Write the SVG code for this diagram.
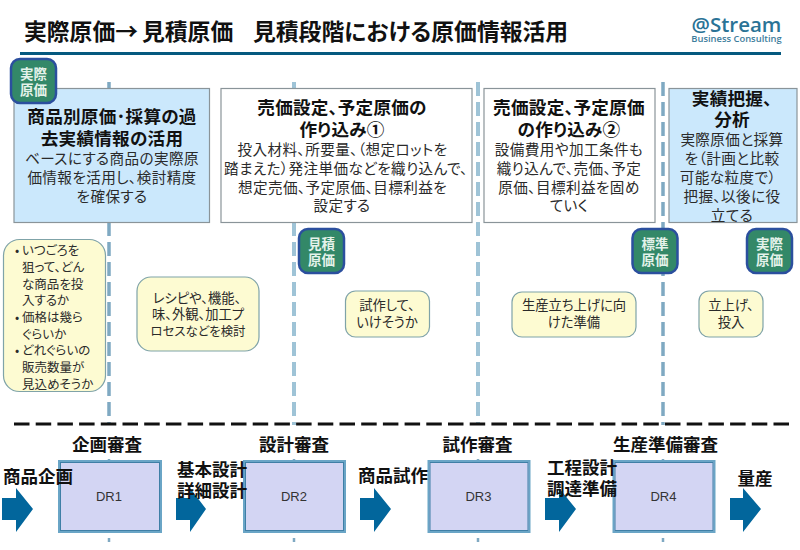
<svg xmlns="http://www.w3.org/2000/svg" width="800" height="550" viewBox="0 0 800 550">
<style>
text{font-family:"Noto Sans CJK JP","Liberation Sans",sans-serif;text-anchor:middle;fill:#222;font-feature-settings:"palt"}
.b{font-weight:700;fill:#111}
.h{font-size:17.6px;font-weight:700;fill:#111;letter-spacing:.25px}
.t{font-size:14.6px;fill:#2a2a2a;letter-spacing:.4px}
.y{font-size:13.3px;fill:#2a2a2a}
.n{font-size:12.5px}
.s{font-size:17.5px;font-weight:700;fill:#111}
.l{text-anchor:start}
.box{stroke:#8a9499;stroke-width:1.2}
.note{fill:#fdfbd2;stroke:#7fa3a8;stroke-width:1.2}
.badge{fill:#338868;stroke:#2b4f9e;stroke-width:2.5}
.bt{font-size:13.5px;font-weight:700;fill:#e4f2ea}
.dr{fill:#d3d5f3;stroke:#6aa5c6;stroke-width:2}
.dri{fill:none;stroke:#3f7fa6;stroke-width:1}
.drt{font-family:"Liberation Sans",sans-serif;font-size:13px;fill:#333}
.ar{fill:#02669c}
.v1{stroke:#7fa9c2;stroke-width:3.5;stroke-dasharray:14 6;fill:none}
.v2{stroke:#3f88ae;stroke-width:3;stroke-dasharray:14 6;fill:none}
.v0{stroke:#fff;stroke-width:1;stroke-dasharray:14 6;fill:none}
</style>
<rect width="800" height="550" fill="#fff"/>
<g id="header">
<text class="b l" x="24" y="39.500" font-size="22.8">実際原価→<tspan x="142">見積原価</tspan></text>
<text class="b l" x="253" y="39.500" font-size="22.8">見積段階における原価情報活用</text>
<rect x="20" y="52" width="761" height="3" fill="#05597f"/>
</g>
<g id="logo">
<text x="736.500" y="32" font-size="20.500" font-weight="600" style="font-family:'Open Sans',sans-serif;fill:#2a7396">@Stream</text>
<text x="736.500" y="42" font-size="9.400" font-weight="600" style="font-family:'Open Sans',sans-serif;fill:#3d7d9c">Business Consulting</text>
</g>
<g id="connectors">
<path class="v1" d="M109 82V425"/>
<path class="v2" d="M294 82V425"/>
<path class="v0" d="M294 82V425"/>
<path class="v2" d="M478 82V425"/>
<path class="v0" d="M478 82V425"/>
<path class="v1" d="M663 82V425"/>
<path d="M14 424H790" stroke="#111" stroke-width="3" stroke-dasharray="15.5 6.2" fill="none"/>
<path d="M109 459v3M109 538v4M294 459v3M294 538v4M478 459v3M478 538v4M663 459v3M663 538v4" stroke="#7fa9c2" stroke-width="2.5" fill="none"/>
</g>
<g id="phase1">
<rect class="box" x="14" y="88.500" width="195.500" height="134" fill="#cbe8fc"/>
<text class="h" x="112" y="123">商品別原価･採算の過</text>
<text class="h" x="112" y="145">去実績情報の活用</text>
<text class="t" x="112" y="164">ベースにする商品の実際原</text>
<text class="t" x="112" y="183">価情報を活用し、検討精度</text>
<text class="t" x="112" y="202">を確保する</text>
</g>
<g id="phase2">
<rect class="box" x="221" y="88.500" width="251" height="134" fill="#fff"/>
<text class="h" x="342" y="114">売価設定、予定原価の</text>
<text class="h" x="342" y="136">作り込み①</text>
<text class="t" x="342.500" y="155">投入材料、所要量、（想定ロットを</text>
<text class="t" x="346" y="174">踏まえた）発注単価などを織り込んで、</text>
<text class="t" x="342.500" y="193">想定売価、予定原価、目標利益を</text>
<text class="t" x="342" y="211">設定する</text>
</g>
<g id="phase3">
<rect class="box" x="484" y="88.500" width="171" height="134" fill="#fff"/>
<text class="h" x="569" y="114">売価設定、予定原価</text>
<text class="h" x="569" y="136">の作り込み②</text>
<text class="t" x="569" y="155">設備費用や加工条件も</text>
<text class="t" x="569" y="174">織り込んで、売価、予定</text>
<text class="t" x="569" y="193">原価、目標利益を固め</text>
<text class="t" x="569" y="211">ていく</text>
</g>
<g id="phase4">
<rect class="box" x="669" y="88.500" width="128" height="134" fill="#cbe8fc"/>
<text class="h" x="732" y="105">実績把握、</text>
<text class="h" x="732" y="126">分析</text>
<text class="t" x="732" y="145">実際原価と採算</text>
<text class="t" x="732" y="164">を（計画と比較</text>
<text class="t" x="728" y="183">可能な粒度で）</text>
<text class="t" x="732" y="202">把握、以後に役</text>
<text class="t" x="732" y="221">立てる</text>
</g>
<g id="badge1"><rect class="badge" x="11" y="59" width="45" height="44" rx="9"/><text class="bt" x="33.500" y="79">実際</text><text class="bt" x="33.500" y="95">原価</text></g>
<g id="badge2"><rect class="badge" x="299" y="229" width="45" height="44" rx="9"/><text class="bt" x="321.500" y="249">見積</text><text class="bt" x="321.500" y="265">原価</text></g>
<g id="badge3"><rect class="badge" x="632.500" y="229" width="45" height="44" rx="9"/><text class="bt" x="655" y="249">標準</text><text class="bt" x="655" y="265">原価</text></g>
<g id="badge4"><rect class="badge" x="747" y="229" width="45" height="44" rx="9"/><text class="bt" x="769.500" y="249">実際</text><text class="bt" x="769.500" y="265">原価</text></g>
<g id="note1">
<rect class="note" x="3.500" y="239.500" width="102" height="152" rx="16"/>
<text class="y n l" x="15" y="255">•<tspan x="22">いつごろを</tspan></text>
<text class="y n l" x="22" y="272">狙って、どん</text>
<text class="y n l" x="22" y="289">な商品を投</text>
<text class="y n l" x="22" y="305">入するか</text>
<text class="y n l" x="15" y="322">•<tspan x="22">価格は幾ら</tspan></text>
<text class="y n l" x="22" y="339">ぐらいか</text>
<text class="y n l" x="15" y="355">•<tspan x="22">どれぐらいの</tspan></text>
<text class="y n l" x="22" y="372">販売数量が</text>
<text class="y n l" x="22" y="389">見込めそうか</text>
</g>
<g id="note2">
<rect class="note" x="137" y="277" width="122" height="74" rx="14"/>
<text class="y" x="197" y="303">レシピや、機能、</text>
<text class="y" x="198" y="319">味、外観、加工プ</text>
<text class="y" x="198" y="336" style="font-size:12.4px">ロセスなどを検討</text>
</g>
<g id="note3">
<rect class="note" x="345.500" y="291" width="84" height="46" rx="10"/>
<text class="y" x="387" y="310">試作して、</text>
<text class="y" x="387" y="327">いけそうか</text>
</g>
<g id="note4">
<rect class="note" x="512" y="292" width="124" height="45" rx="10"/>
<text class="y" x="574" y="310">生産立ち上げに向</text>
<text class="y" x="574" y="327">けた準備</text>
</g>
<g id="note5">
<rect class="note" x="699" y="291" width="64" height="46" rx="10"/>
<text class="y" x="731" y="310">立上げ、</text>
<text class="y" x="731" y="327">投入</text>
</g>
<g id="dr1"><rect class="dr" x="59" y="461" width="102" height="71"/><rect class="dri" x="60.500" y="462.500" width="99" height="68"/><text class="drt" x="109" y="501">DR1</text><text class="s" x="107" y="451">企画審査</text></g>
<g id="dr2"><rect class="dr" x="244" y="461" width="101" height="71"/><rect class="dri" x="245.500" y="462.500" width="98" height="68"/><text class="drt" x="294" y="501">DR2</text><text class="s" x="294" y="451">設計審査</text></g>
<g id="dr3"><rect class="dr" x="428.500" y="461" width="101" height="71"/><rect class="dri" x="430" y="462.500" width="98" height="68"/><text class="drt" x="478.500" y="501">DR3</text><text class="s" x="477.500" y="451">試作審査</text></g>
<g id="dr4"><rect class="dr" x="613.500" y="461" width="101" height="71"/><rect class="dri" x="615" y="462.500" width="98" height="68"/><text class="drt" x="663.500" y="501">DR4</text><text class="s" x="665.500" y="451">生産準備審査</text></g>
<g id="arrow1"><path class="ar" d="M2 498H16V488L33 509L16 532V520H2Z"/><text class="s" x="38" y="483">商品企画</text></g>
<g id="arrow2"><path class="ar" d="M176 498H190V488L206 509L190 532V520H176Z"/><text class="s" x="212" y="476">基本設計</text><text class="s" x="212" y="497">詳細設計</text></g>
<g id="arrow3"><path class="ar" d="M360 498H374V488L391 509L374 532V520H360Z"/><text class="s" x="393" y="482">商品試作</text></g>
<g id="arrow4"><path class="ar" d="M545 498H559V488L576 509L559 532V520H545Z"/><text class="s" x="582" y="474">工程設計</text><text class="s" x="582" y="495">調達準備</text></g>
<g id="arrow5"><path class="ar" d="M730 498H743V488L761 509L743 532V520H730Z"/><text class="s" x="755" y="485">量産</text></g>
</svg>
